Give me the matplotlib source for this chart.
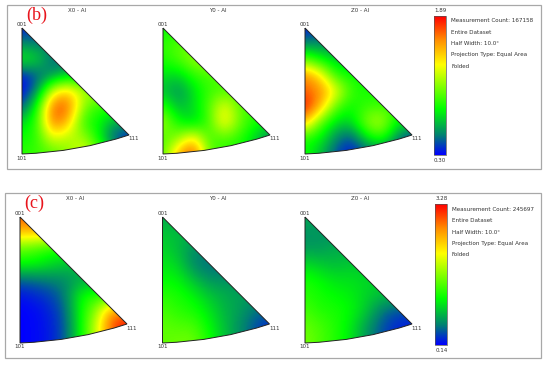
import numpy as np
import matplotlib
matplotlib.use("Agg")
import matplotlib.pyplot as plt
from matplotlib.colors import LinearSegmentedColormap
from matplotlib.patches import PathPatch, Rectangle
from matplotlib.path import Path

# levels (0 = bottom of bar, 1 = top), rows from 001 down to 101
b_x0 = [[.02, .06],
        [.16, .14],
        [.33, .28, .12],
        [.02, .10, .16, .25],
        [.00, .14, .62, .74, .55],
        [.08, .34, .90, .90, .50, .38],
        [.28, .38, .88, .76, .38, .33, .20],
        [.34, .38, .62, .54, .55, .33, .08, .01],
        [.38, .40, .42, .50, .64, .48, .30, .10]]
b_y0 = [[.33, .33],
        [.38, .44],
        [.36, .42, .52, .52],
        [.30, .26, .38, .42, .42],
        [.24, .16, .28, .40, .42, .42],
        [.40, .22, .28, .42, .66, .44, .38],
        [.54, .34, .26, .40, .70, .46, .36, .30],
        [.42, .50, .72, .40, .42, .38, .26, .14],
        [.42, .78, .96, .46, .38, .35, .28, .14]]
b_z0 = [[.02, .06],
        [.15, .16],
        [.45, .33, .26],
        [.84, .70, .38, .34],
        [.88, .84, .66, .40, .35],
        [1.0, .78, .44, .33, .40, .40],
        [.76, .44, .28, .26, .50, .58, .30],
        [.35, .32, .16, .06, .28, .38, .16, .03],
        [.36, .24, .08, .02, .06, .12, .06, .01]]
c_x0 = [[.90, .90],
        [.74, .74],
        [.45, .42, .36],
        [.33, .32, .28, .24],
        [.10, .12, .14, .16, .20],
        [.02, .04, .07, .14, .34, .38],
        [.00, .01, .04, .11, .34, .52, .84],
        [.00, .01, .03, .10, .33, .60, .92, 1.0],
        [.00, .01, .03, .10, .33, .58, .84, 1.0]]
c_y0 = [[.20, .20],
        [.25, .23],
        [.27, .23, .16],
        [.30, .27, .15, .12],
        [.33, .32, .24, .17, .17],
        [.38, .36, .32, .25, .21, .19],
        [.42, .38, .36, .30, .22, .19, .12],
        [.45, .43, .43, .33, .24, .16, .09, .03],
        [.44, .47, .47, .36, .24, .18, .10, .03]]
c_z0 = [[.20, .20],
        [.17, .17],
        [.18, .18, .21],
        [.28, .25, .23, .25],
        [.36, .33, .29, .29, .27],
        [.38, .35, .33, .31, .27, .23],
        [.42, .37, .36, .33, .25, .13, .08],
        [.46, .42, .37, .30, .18, .09, .04, .03],
        [.48, .42, .37, .30, .18, .09, .04, .03]]

panel_titles = ["X0 - Al", "Y0 - Al", "Z0 - Al"]
corner_labels = ["001", "101", "111"]
b_range = ["1.89", "0.30"]
c_range = ["3.28", "0.14"]
b_info = ["Measurement Count: 167158", "Entire Dataset", "Half Width: 10.0°",
          "Projection Type: Equal Area", "Folded"]
c_info = ["Measurement Count: 245697", "Entire Dataset", "Half Width: 10.0°",
          "Projection Type: Equal Area", "Folded"]

cmap = LinearSegmentedColormap.from_list("ipf", [
    (0.0, (0, 0, 1)), (0.14, (0, 0.5, 0.45)), (0.33, (0, 1, 0)),
    (0.65, (1, 1, 0)), (0.83, (1, 0.55, 0)), (1.0, (1, 0, 0))])

fig = plt.figure(figsize=(5.5, 3.66), dpi=100)
ax = fig.add_axes([0, 0, 1, 1])
ax.set_xlim(0, 550)
ax.set_ylim(366, 0)
ax.axis("off")


def triangle(grid, x0, top, title):
    w, h = 107, 126
    rows = [r + [r[-1]] * (8 - len(r)) for r in grid]
    dx = w / 7
    dy = h / 8
    im = ax.imshow(rows, cmap=cmap, vmin=0, vmax=1, interpolation="bicubic", aspect="auto",
                   extent=[x0 - dx / 2, x0 + w + dx / 2, top + h + dy / 2, top - dy / 2])
    verts = [(x0, top), (x0 + w, top + 107), (x0 + 56, top + 124), (x0, top + h), (x0, top)]
    codes = [Path.MOVETO, Path.LINETO, Path.CURVE3, Path.CURVE3, Path.LINETO]
    patch = PathPatch(Path(verts, codes), fc="none", ec="#222222", lw=0.7, zorder=3)
    ax.add_patch(patch)
    im.set_clip_path(patch)
    ax.text(x0 + 55, top - 18, title, fontsize=4, color="#333333", ha="center", va="center")
    ax.text(x0, top - 3.5, corner_labels[0], fontsize=4, color="#333333", ha="center", va="center")
    ax.text(x0, top + h + 4, corner_labels[1], fontsize=4, color="#333333", ha="center", va="center")
    ax.text(x0 + w + 5, top + 111, corner_labels[2], fontsize=4, color="#333333", ha="center", va="center")


def legend_block(x, top, bottom, vals, info, text_x, text_y):
    bar = np.linspace(1, 0, 256).reshape(-1, 1)
    ax.imshow(bar, cmap=cmap, vmin=0, vmax=1, aspect="auto", extent=[x, x + 11.5, bottom, top])
    ax.add_patch(Rectangle((x, top), 11.5, bottom - top, fc="none", ec="#555555", lw=0.5, zorder=3))
    ax.text(x + 6, top - 5.5, vals[0], fontsize=4, color="#333333", ha="center", va="center")
    ax.text(x + 6, bottom + 6, vals[1], fontsize=4, color="#333333", ha="center", va="center")
    for i, line in enumerate(info):
        ax.text(text_x, text_y + i * 11.3, line, fontsize=4.1, color="#333333", va="center")


for (l, t, r, b) in [(6.5, 4.5, 540.5, 169), (4.5, 192.5, 540.5, 358)]:
    ax.add_patch(Rectangle((l, t), r - l, b - t, fc="none", ec="#a8a8a8", lw=0.9))

for grid, x0, title in zip([b_x0, b_y0, b_z0], [22, 163, 305], panel_titles):
    triangle(grid, x0, 28, title)
for grid, x0, title in zip([c_x0, c_y0, c_z0], [20, 162.5, 305], panel_titles):
    triangle(grid, x0, 217, title)

legend_block(434, 16, 155, b_range, b_info, 451, 21)
legend_block(435.3, 204, 345, c_range, c_info, 452, 209.5)

ax.text(26, 15, "(b)", fontsize=13, color="#e8141c", family="Liberation Serif", va="center")
ax.text(24, 203, "(c)", fontsize=13, color="#e8141c", family="Liberation Serif", va="center")

ax.set_xlim(0, 550)
ax.set_ylim(366, 0)
fig.savefig("out.png", dpi=100)
